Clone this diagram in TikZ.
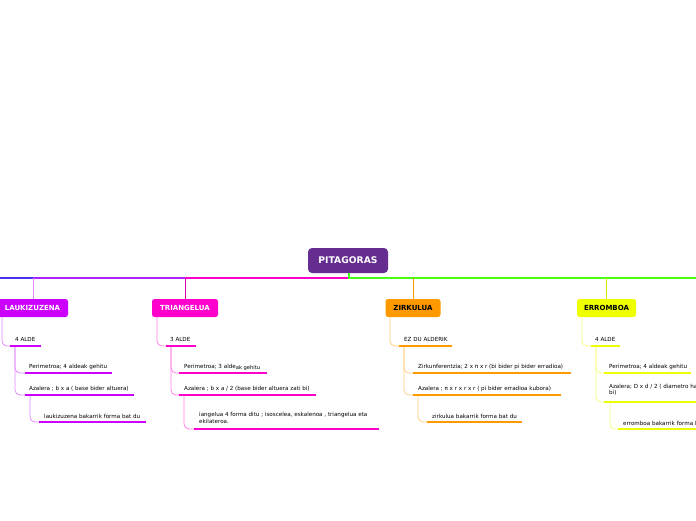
\documentclass[tikz,border=0pt]{standalone}
\usepackage{fontspec}
\setmainfont{DejaVu Sans}
\definecolor{rootc}{HTML}{662D91}
\definecolor{laukc}{HTML}{CC00FF}
\definecolor{laukl}{HTML}{E088FF}
\definecolor{tric}{HTML}{FF00CC}
\definecolor{tril}{HTML}{FF80E6}
\definecolor{zirkc}{HTML}{FF9900}
\definecolor{zirkl}{HTML}{FFCC80}
\definecolor{errc}{HTML}{EEFF00}
\definecolor{errl}{HTML}{F6FF80}
\definecolor{greenc}{HTML}{44FF11}
\definecolor{bluec}{HTML}{4433EE}
\definecolor{purpc}{HTML}{AA22FF}
\tikzset{
  rootbox/.style={fill=rootc, text=white, rounded corners=4pt, minimum width=80pt, minimum height=25pt, inner sep=0pt, font=\fontsize{9.2}{11}\selectfont\bfseries},
  topicbox/.style={rounded corners=2.5pt, minimum height=18pt, inner sep=0pt, font=\fontsize{7}{8}\selectfont\bfseries},
  bar/.style={line width=2.6pt},
  conn/.style={line width=0.8pt, rounded corners=5pt},
  mainln/.style={line width=1.4pt},
  lbl/.style={anchor=base west, inner sep=0pt, font=\fontsize{5.6}{6.5}\selectfont},
  lbltwo/.style={anchor=north west, inner sep=0pt, align=left, font=\fontsize{5.6}{6.5}\selectfont},
}
\begin{document}
\begin{tikzpicture}[x=1pt,y=-1pt]
\useasboundingbox (0,0) rectangle (696,520);
\clip (0,0) rectangle (696,520);
% root
\node[rootbox] (root) at (348,260.5) {PITAGORAS};
\coordinate (hub) at (349,278);
\coordinate (lend) at (-5,278);
\coordinate (rend) at (701,278);
\coordinate (jl) at (33,278);
\coordinate (jt) at (185,278);
\coordinate (jz) at (413,278);
\coordinate (je) at (606,278);
% topic nodes
\node[topicbox, fill=laukc, text=white, minimum width=71pt] (lauk) at (32.5,308) {LAUKIZUZENA};
\node[topicbox, fill=tric, text=white, minimum width=66pt] (tri) at (185,308) {TRIANGELUA};
\node[topicbox, fill=zirkc, text=black, minimum width=55pt] (zirk) at (413,308) {ZIRKULUA};
\node[topicbox, fill=errc, text=black, minimum width=59pt] (err) at (606.5,308) {ERROMBOA};
% main line
\draw[mainln, bluec] (jl) -- (lend);
\draw[mainln, purpc] (jt) -- (jl);
\draw[mainln, tric] (hub) -- (jt);
\draw[mainln, greenc] (root.south -| hub) -- (hub) -- (rend);
\draw[line width=0.9pt, laukl] (jl) -- (lauk.north -| jl);
\draw[line width=0.9pt, tric!85!black] (jt) -- (tri.north -| jt);
\draw[line width=0.9pt, zirkc] (jz) -- (zirk.north -| jz);
\draw[line width=0.9pt, errc!90!black] (je) -- (err.north -| je);

% ---------------- LAUKIZUZENA ----------------
\coordinate (l1a) at (10,346); \coordinate (l1b) at (41,346);
\coordinate (l2a) at (25,373); \coordinate (l2b) at (112,373);
\coordinate (l3a) at (25,395); \coordinate (l3b) at (134,395);
\coordinate (l4a) at (39,422); \coordinate (l4b) at (146,422);
\draw[conn, laukl] (lauk.south -| 2,0) |- (l1a);
\draw[conn, laukl] (15,346) |- (l2a);
\draw[conn, laukl] (15,346) |- (l3a);
\draw[conn, laukl] (30,395) |- (l4a);
\draw[bar, laukc] (l1a) -- (l1b);
\draw[bar, laukc] (l2a) -- (l2b);
\draw[bar, laukc] (l3a) -- (l3b);
\draw[bar, laukc] (l4a) -- (l4b);
\node[lbl] (lt1) at (15,341) {4 ALDE};
\node[lbl] (lt2) at (29,368) {Perimetroa; 4 aldeak gehitu};
\node[lbl] (lt3) at (29,390) {Azalera ; b x a ( base bider altuera)};
\node[lbl] (lt4) at (44,418) {laukizuzena bakarrik forma bat du};

% ---------------- TRIANGELUA ----------------
\coordinate (t1a) at (166,346); \coordinate (t1b) at (196,346);
\coordinate (t2a) at (179,373); \coordinate (t2b) at (267,373);
\coordinate (t3a) at (179,395); \coordinate (t3b) at (316,395);
\coordinate (t4a) at (194,429); \coordinate (t4b) at (379,429);
\draw[conn, tril] (tri.south -| 157,0) |- (t1a);
\draw[conn, tril] (171,346) |- (t2a);
\draw[conn, tril] (171,346) |- (t3a);
\draw[conn, tril] (184,395) |- (t4a);
\draw[bar, tric] (t1a) -- (t1b);
\draw[bar, tric] (t2a) -- (t2b);
\draw[bar, tric] (t3a) -- (t3b);
\draw[bar, tric] (t4a) -- (t4b);
\node[lbl] (tt1) at (170,341) {3 ALDE};
\node[lbl] (tt2) at (184,368) {Perimetroa; 3 alde\raisebox{-1.2pt}{\fontsize{5.2}{6}\selectfont ak gehitu}};
\node[lbl] (tt3) at (184,390) {Azalera ; b x a / 2 \raisebox{-0.8pt}{(base bider altuera zati bi)}};
\node[lbltwo] (tt4) at (199,412.5) {iangelua 4 forma ditu ; isoscelea, eskalenoa , triangelua eta\\ekilateroa.};

% ---------------- ZIRKULUA ----------------
\coordinate (z1a) at (399,346); \coordinate (z1b) at (452,346);
\coordinate (z2a) at (413,373); \coordinate (z2b) at (571,373);
\coordinate (z3a) at (413,395); \coordinate (z3b) at (561,395);
\coordinate (z4a) at (427,422); \coordinate (z4b) at (522,422);
\draw[conn, zirkl] (zirk.south -| 390,0) |- (z1a);
\draw[conn, zirkl] (404,346) |- (z2a);
\draw[conn, zirkl] (404,346) |- (z3a);
\draw[conn, zirkl] (418,395) |- (z4a);
\draw[bar, zirkc] (z1a) -- (z1b);
\draw[bar, zirkc] (z2a) -- (z2b);
\draw[bar, zirkc] (z3a) -- (z3b);
\draw[bar, zirkc] (z4a) -- (z4b);
\node[lbl] (zt1) at (404,341) {EZ DU ALDERIK};
\node[lbl] (zt2) at (418,368) {Zirkunferentzia; 2 x π x r (bi bider pi bider erradioa)};
\node[lbl] (zt3) at (418,390) {Azalera ; π x r x r x r ( pi bider erradioa kubora)};
\node[lbl] (zt4) at (432,418) {zirkulua bakarrik forma bat du};

% ---------------- ERROMBOA ----------------
\coordinate (e1a) at (591,346); \coordinate (e1b) at (620,346);
\coordinate (e2a) at (604,373); \coordinate (e2b) at (691,373);
\coordinate (e3a) at (604,402); \coordinate (e3b) at (701,402);
\coordinate (e4a) at (618,429); \coordinate (e4b) at (701,429);
\draw[conn, errl] (err.south -| 582,0) |- (e1a);
\draw[conn, errl] (596,346) |- (e2a);
\draw[conn, errl] (596,346) |- (e3a);
\draw[conn, errl] (610,402) |- (e4a);
\draw[bar, errc] (e1a) -- (e1b);
\draw[bar, errc] (e2a) -- (e2b);
\draw[bar, errc] (e3a) -- (e3b);
\draw[bar, errc] (e4a) -- (e4b);
\node[lbl] (et1) at (595,341) {4 ALDE};
\node[lbl] (et2) at (609,368) {Perimetroa; 4 aldeak gehitu};
\node[lbltwo] (et3) at (609,384) {Azalera; D x d / 2 ( diametro ha\\bi)};
\node[lbl] (et4) at (623,425) {erromboa bakarrik forma bat du};
\end{tikzpicture}
\end{document}
